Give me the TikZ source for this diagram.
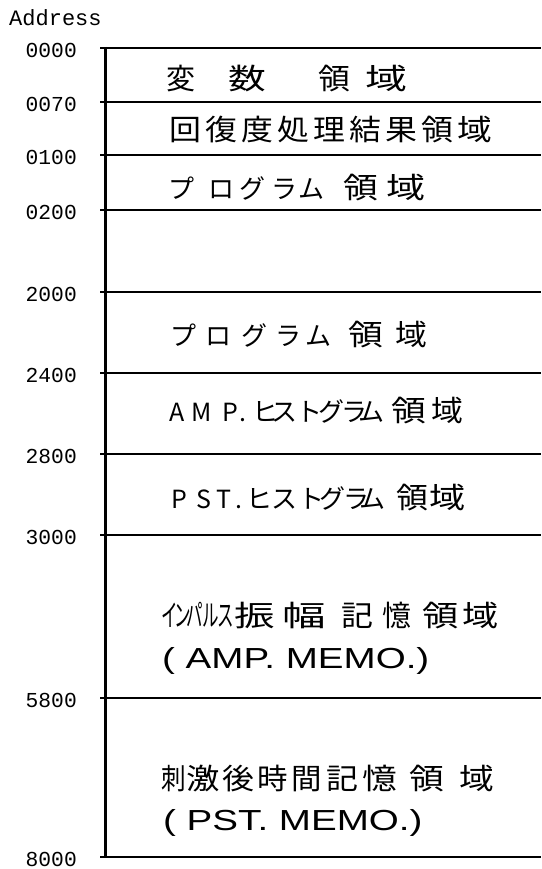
\documentclass[tikz,border=0pt]{standalone}
\usepackage{fontspec}
\newfontfamily\addrfont{Liberation Mono}
\newfontfamily\jpfont{Noto Sans CJK JP}
\newfontfamily\memofont{Liberation Sans}
% one glyph in a box of given advance, optionally widened
\newcommand\jk[3][1.1]{\makebox[#2pt][l]{\scalebox{#1}[1]{#3}}}
\newcommand\jn[2]{\makebox[#1pt][l]{\fontsize{26}{30}\selectfont #2}}
\newcommand\js[2]{\makebox[#1pt][l]{\scalebox{0.55}[1]{\fontsize{30}{32}\selectfont #2}}}
\newcommand\jl[2]{\makebox[#1pt][l]{\fontsize{25}{28}\selectfont #2}}
\begin{document}
\begin{tikzpicture}[x=1pt,y=-1pt]
\tikzset{
  addr/.style={anchor=east,inner sep=0pt,font=\addrfont\fontsize{21.3}{23}\selectfont},
  jp/.style={anchor=base west,inner sep=0pt,font=\jpfont\fontsize{29}{32}\selectfont},
  memo/.style={anchor=base west,inner sep=0pt,font=\memofont\fontsize{29}{32}\selectfont},
  rule/.style={line width=2.6pt,line cap=butt},
}
\useasboundingbox (0,0) rectangle (541,869);
% address labels and boundaries
\node[anchor=west,inner sep=0pt,font=\addrfont\fontsize{22}{24}\selectfont] (addrhead) at (9,18) {Address};
\foreach \lab/\yy in {0000/48,0070/102,0100/155,0200/210,2000/292,2400/373,2800/454,3000/535,5800/698,8000/857}{
  \node[addr] (a\lab) at (77,\yy+2) {\lab};
  \draw[rule] (100,\yy) -- (541,\yy);
}
\draw[line width=3pt] (105,47) -- (105,858);
% region texts
\node[jp] (r1) at (166,90) {\jk[1]{62}{変}\jk[1.3]{90}{数}\jk[1.1]{47}{領}\jk[1.45]{40}{域}};
\node[jp] (r2) at (169,141) {\jk{36}{回}\jk{36}{復}\jk{36}{度}\jk{36}{処}\jk{36}{理}\jk{36}{結}\jk{36}{果}\jk{36}{領}\jk[1.2]{36}{域}};
\node[jp] (r3) at (168,198) {\jn{40}{プ}\jn{31}{ロ}\jn{32}{グ}\jn{27}{ラ}\jn{45}{ム}\jk[1.2]{43}{領}\jk[1.35]{40}{域}};
\node[jp] (r4) at (170,345) {\jn{35}{プ}\jn{36}{ロ}\jn{34}{グ}\jn{30}{ラ}\jn{43}{ム}\jk[1.2]{47}{領}\jk[1.1]{40}{域}};
\node[jp] (r5) at (169,421) {\jl{22}{A}\jl{31}{M}\jl{17}{P}\jl{13}{.}\jn{19}{ヒ}\jn{25}{ス}\jn{22}{ト}\jn{23}{グ}\jn{17}{ラ}\jn{33}{ム}\jk[1.2]{40}{領}\jk[1.1]{40}{域}};
\node[jp] (r6) at (171,508) {\jl{25}{P}\jl{20}{S}\jl{19}{T}\jl{11}{.}\jn{25}{ヒ}\jn{27}{ス}\jn{21}{ト}\jn{24}{グ}\jn{16}{ラ}\jn{37}{ム}\jk[1.1]{33}{領}\jk[1.25]{40}{域}};
\node[jp] (r7) at (161,626) {\js{13}{イ}\js{12}{ン}\js{16}{パ}\js{15}{ル}\js{17}{ス}\jk[1.4]{48}{振}\jk[1.5]{59}{幅}\jk[1.1]{41}{記}\jk[1]{40}{憶}\jk[1.25]{40}{領}\jk[1.25]{40}{域}};
\node[memo] (r8) at (162,668) {\scalebox{1.33}[1]{( AMP. MEMO.)}};
\node[jp] (r9) at (161,789) {\jk[0.85]{25}{刺}\jk[1.15]{36}{激}\jk{35}{後}\jk[1.05]{34}{時}\jk[1.05]{35}{間}\jk{36}{記}\jk[1.2]{47}{憶}\jk[1.2]{50}{領}\jk[1.2]{40}{域}};
\node[memo] (r10) at (163,830) {\scalebox{1.33}[1]{( PST. MEMO.)}};
\end{tikzpicture}
\end{document}
